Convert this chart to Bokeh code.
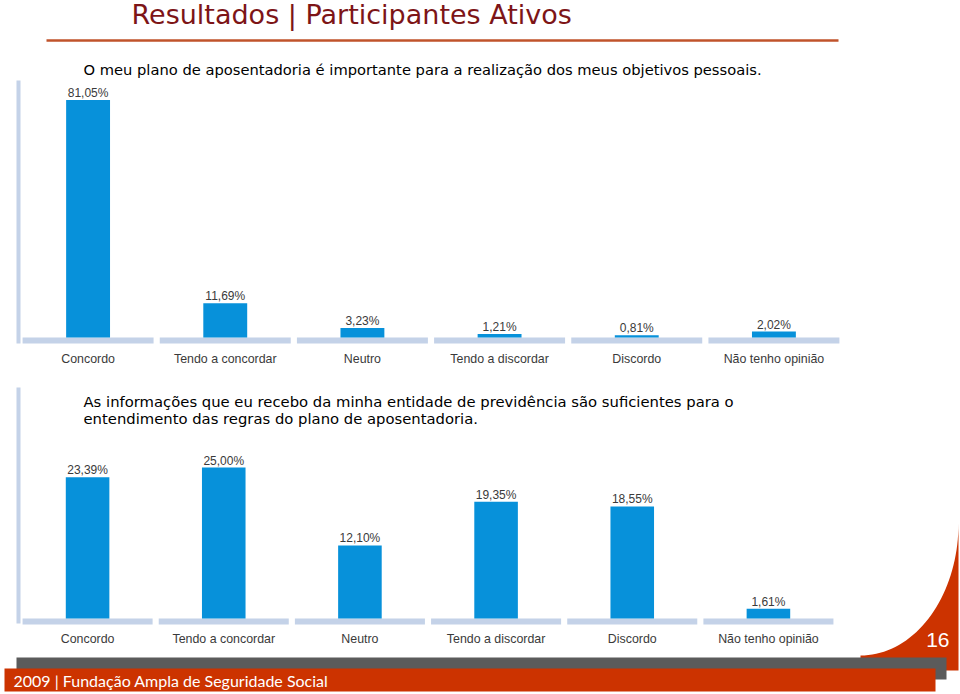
import numpy as np
from bokeh.plotting import figure
from bokeh.models import Range1d, ColumnDataSource
from bokeh.core.properties import value
from bokeh.embed import file_html
from bokeh.resources import INLINE

# ---------------- data ----------------
categories = ["Concordo", "Tendo a concordar", "Neutro", "Tendo a discordar",
              "Discordo", "Não tenho opinião"]
values_q1 = [81.05, 11.69, 3.23, 1.21, 0.81, 2.02]
values_q2 = [23.39, 25.00, 12.10, 19.35, 18.55, 1.61]

title_text = "Resultados | Participantes Ativos"
question_1 = ["O meu plano de aposentadoria é importante para a realização dos meus objetivos pessoais."]
question_2 = ["As informações que eu recebo da minha entidade de previdência são suficientes para o",
              "entendimento das regras do plano de aposentadoria."]
footer_text = "2009 | Fundação Ampla de Seguridade Social"
page_number = "16"

# ---------------- style ----------------
BAR = "#0791DA"
BASE = "#C4D2E8"
TXT = "#3A3A3A"
DARKRED = "#7D1517"
ORANGE = "#CC3300"
GREY = "#5B5B5B"
W, H = 960, 694
X0, X1, Y0, Y1 = 0, W, 0, H   # page-pixel frame

p = figure(width=W, height=H, output_backend="svg", toolbar_location=None,
           x_axis_type=None, y_axis_type=None,
           x_range=Range1d(X0, X1), y_range=Range1d(Y1, Y0),
           min_border=0, outline_line_color=None)
p.grid.visible = False
p.background_fill_color = "white"
p.border_fill_color = "white"


def chart_ranges(left, right, baseline, ppu):
    n = len(categories)
    w = (right - left) / n
    xr = Range1d(-0.5 + (X0 - left) / w, -0.5 + (X1 - left) / w)
    yr = Range1d((baseline - Y1) / ppu, (baseline - Y0) / ppu)
    return xr, yr


xr1, yr1 = chart_ranges(19, 842, 337, 2.93)
xr2, yr2 = chart_ranges(19, 836, 618, 6.04)
p.extra_x_ranges = {"x1": xr1, "x2": xr2}
p.extra_y_ranges = {"y1": yr1, "y2": yr2}

# ---------------- decorations ----------------
p.segment(x0=[18, 18], y0=[80, 387], x1=[18, 18], y1=[343, 623],
          line_color=BASE, line_width=4)
p.segment(x0=[46], y0=[40], x1=[838], y1=[40], line_color="#C0532B", line_width=2.5)

p.text(x=[131], y=[14], text=[title_text], text_font=value("DejaVu Sans"),
       text_font_size="27px", text_color=DARKRED, text_baseline="alphabetic")
p.text(x=[83], y=[69], text=question_1, text_font=value("DejaVu Sans"),
       text_font_size="14.7px", text_color="black", text_baseline="alphabetic")
p.text(x=[83, 83], y=[401, 418], text=question_2, text_font=value("DejaVu Sans"),
       text_font_size="14.8px", text_color="black", text_baseline="alphabetic")

# ---------------- charts ----------------
def draw_chart(vals, xname, yname, ppu, lab_off):
    idx = list(range(len(categories)))
    src = ColumnDataSource(dict(
        x=idx, cat=categories, v=vals,
        lab=[f"{v:.2f}".replace(".", ",") + "%" for v in vals]))
    p.vbar(x="x", top=0, bottom=-6.0 / ppu, width=0.955, source=src,
           fill_color=BASE, line_color=None, x_range_name=xname, y_range_name=yname)
    p.vbar(x="x", top="v", bottom=0, width=0.32, source=src,
           fill_color=BAR, line_color=None, x_range_name=xname, y_range_name=yname)
    p.text(x="x", y="v", text="lab", source=src, text_align="center",
           text_baseline="alphabetic", y_offset=-7, text_font=value("Liberation Sans"),
           text_font_size="12px", text_color=TXT, x_range_name=xname, y_range_name=yname)
    p.text(x="x", y=0, text="cat", source=src, text_align="center",
           text_baseline="middle", y_offset=lab_off, text_font=value("Liberation Sans"),
           text_font_size="12.4px", text_color=TXT, x_range_name=xname, y_range_name=yname)


draw_chart(values_q1, "x1", "y1", 2.93, 21)
draw_chart(values_q2, "x2", "y2", 6.04, 20)

# ---------------- footer ----------------
th = np.linspace(np.pi / 2, 0, 40)
cx = list(860 + 98 * np.cos(th)) + [958, 958, 860]
cy = list(523 + 132 * np.sin(th)) + [523, 670, 670]
p.patch(x=cx, y=cy, fill_color=ORANGE, line_color=None)
p.quad(left=[16], right=[946], top=[657], bottom=[679], fill_color=GREY, line_color=None)
p.quad(left=[4], right=[935], top=[668], bottom=[691], fill_color=ORANGE, line_color=None)
p.text(x=[13], y=[680], text=[footer_text], text_font=value("Lato"),
       text_font_size="16px", text_color="white", text_baseline="alphabetic")
p.text(x=[949], y=[639], text=[page_number], text_font=value("Liberation Sans"),
       text_font_size="21px", text_color="white", text_baseline="alphabetic",
       text_align="right")

open("out.html", "w").write(file_html(p, INLINE))
